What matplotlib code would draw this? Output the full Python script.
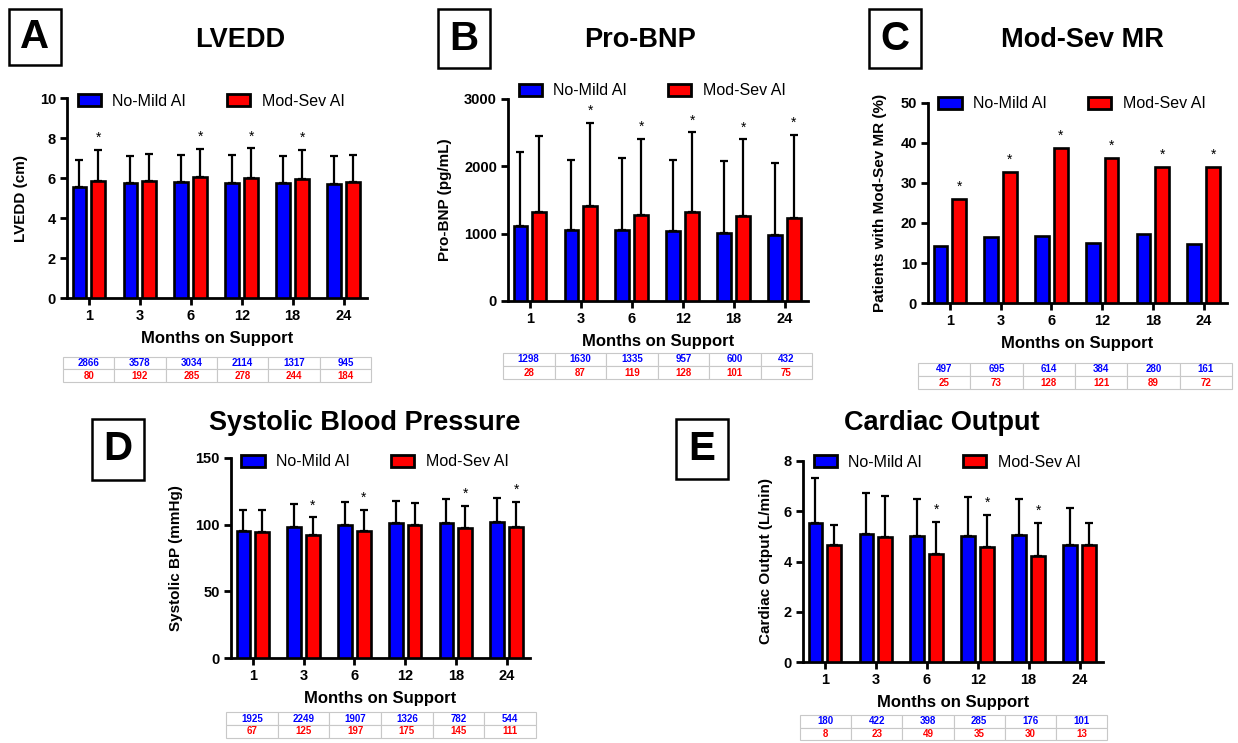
import numpy as np
import matplotlib
matplotlib.use("Agg")
import matplotlib.pyplot as plt
from matplotlib.patches import Patch, Rectangle

plt.rcParams["font.family"] = ["Liberation Sans", "DejaVu Sans"]

W, H = 1238, 743
months = ["1", "3", "6", "12", "18", "24"]
BLUE = "#0000ff"
RED = "#ff0000"

# LVEDD (cm)
lvedd_blue = [5.53, 5.76, 5.80, 5.76, 5.75, 5.71]
lvedd_blue_sd = [1.35, 1.35, 1.33, 1.37, 1.36, 1.40]
lvedd_red = [5.85, 5.85, 6.06, 6.00, 5.95, 5.80]
lvedd_red_sd = [1.54, 1.36, 1.40, 1.48, 1.44, 1.36]
lvedd_sig = [1, 0, 1, 1, 1, 0]
lvedd_n_blue = [2866, 3578, 3034, 2114, 1317, 945]
lvedd_n_red = [80, 192, 285, 278, 244, 184]

# Pro-BNP (pg/mL)
bnp_blue = [1110, 1056, 1051, 1041, 1006, 982]
bnp_blue_sd = [1106, 1041, 1066, 1056, 1066, 1061]
bnp_red = [1319, 1413, 1279, 1319, 1264, 1239]
bnp_red_sd = [1125, 1229, 1125, 1185, 1136, 1225]
bnp_sig = [0, 1, 1, 1, 1, 1]
bnp_n_blue = [1298, 1630, 1335, 957, 600, 432]
bnp_n_red = [28, 87, 119, 128, 101, 75]

# Mod-Sev MR (%)
mr_blue = [14.2, 16.4, 16.8, 14.9, 17.3, 14.7]
mr_red = [26.0, 32.8, 38.75, 36.3, 34.0, 34.1]
mr_sig = [1, 1, 1, 1, 1, 1]
mr_n_blue = [497, 695, 614, 384, 280, 161]
mr_n_red = [25, 73, 128, 121, 89, 72]

# Systolic BP (mmHg)
sbp_blue = [95.3, 98.3, 100.0, 101.0, 101.0, 101.8]
sbp_blue_sd = [16.0, 17.3, 17.0, 16.8, 18.0, 18.5]
sbp_red = [94.3, 92.5, 95.5, 99.5, 97.5, 98.3]
sbp_red_sd = [17.0, 13.0, 15.8, 16.8, 16.3, 18.5]
sbp_sig = [0, 1, 1, 0, 1, 1]
sbp_n_blue = [1925, 2249, 1907, 1326, 782, 544]
sbp_n_red = [67, 125, 197, 175, 145, 111]

# Cardiac output (L/min)
co_blue = [5.53, 5.09, 5.01, 5.02, 5.04, 4.66]
co_blue_sd = [1.81, 1.63, 1.48, 1.56, 1.45, 1.48]
co_red = [4.66, 4.96, 4.29, 4.57, 4.21, 4.66]
co_red_sd = [0.78, 1.63, 1.30, 1.28, 1.32, 0.88]
co_sig = [0, 0, 1, 1, 1, 0]
co_n_blue = [180, 422, 398, 285, 176, 101]
co_n_red = [8, 23, 49, 35, 30, 13]


def frac(x0, y0, x1, y1):
    return [x0 / W, 1 - y1 / H, (x1 - x0) / W, (y1 - y0) / H]


fig = plt.figure(figsize=(W / 100, H / 100), dpi=100)


def panel(axrect, letter, boxrect, title, title_xy, blue, red, blue_sd, red_sd,
          sig, ymax, ystep, ylabel, ylab_x, leg_y, tabrect, n_blue, n_red):
    ax = fig.add_axes(frac(*axrect))
    x = np.arange(len(months))
    w = 0.27
    lw = 1.9
    ax.bar(x - 0.185, blue, w, color=BLUE, edgecolor="black", linewidth=lw, zorder=3)
    ax.bar(x + 0.185, red, w, color=RED, edgecolor="black", linewidth=lw, zorder=3)
    tops = np.array(red, dtype=float)
    if blue_sd is not None:
        ax.errorbar(x - 0.185, blue, yerr=[np.zeros(6), blue_sd], fmt="none",
                    ecolor="black", elinewidth=1.6, capsize=3, capthick=1.6, zorder=2)
        ax.errorbar(x + 0.185, red, yerr=[np.zeros(6), red_sd], fmt="none",
                    ecolor="black", elinewidth=1.6, capsize=3, capthick=1.6, zorder=2)
        tops = tops + np.array(red_sd)
    for i in range(6):
        if sig[i]:
            ax.text(x[i] + 0.185, tops[i] + 0.025 * ymax, "*", ha="center",
                    va="bottom", fontsize=10)
    ax.set_xlim(-0.43, 5.46)
    ax.set_ylim(0, ymax)
    ax.set_yticks(np.arange(0, ymax + ystep / 2, ystep))
    ax.set_xticks(x)
    ax.set_xticklabels(months)
    for s in ["top", "right"]:
        ax.spines[s].set_visible(False)
    for s in ["left", "bottom"]:
        ax.spines[s].set_linewidth(2.0)
    ax.tick_params(axis="both", width=2.0, length=5, labelsize=10.5, pad=3)
    for lab in ax.get_xticklabels() + ax.get_yticklabels():
        lab.set_fontweight("bold")
    ax.set_ylabel(ylabel, fontsize=11, fontweight="bold")
    ax.yaxis.set_label_coords(ylab_x, 0.5)
    ax.set_xlabel("Months on Support", fontsize=12, fontweight="bold")
    ax.xaxis.set_label_coords(0.5, -0.165)
    handles = [Patch(facecolor=BLUE, edgecolor="black", linewidth=2, label="No-Mild AI"),
               Patch(facecolor=RED, edgecolor="black", linewidth=2, label="Mod-Sev AI")]
    ax.legend(handles=handles, ncol=2, loc="center left", bbox_to_anchor=(0.035, leg_y),
              frameon=False, fontsize=11.5, handlelength=1.45, handleheight=0.85,
              handletextpad=0.7, columnspacing=2.6, borderpad=0, borderaxespad=0)

    # letter box
    bx0, by0, bx1, by1 = boxrect
    r = frac(*boxrect)
    fig.add_artist(Rectangle((r[0], r[1]), r[2], r[3], transform=fig.transFigure,
                             fill=False, edgecolor="black", linewidth=1.8))
    fig.text((bx0 + bx1) / 2 / W, 1 - (by0 + by1) / 2 / H, letter, ha="center",
             va="center", fontsize=29, fontweight="bold")
    fig.text(title_xy[0] / W, 1 - title_xy[1] / H, title, ha="center", va="center",
             fontsize=19.5, fontweight="bold")

    # n table
    tax = fig.add_axes(frac(*tabrect))
    tax.axis("off")
    tbl = tax.table(cellText=[[str(v) for v in n_blue], [str(v) for v in n_red]],
                    cellLoc="center", bbox=[0, 0, 1, 1])
    tbl.auto_set_font_size(False)
    for (row, col), cell in tbl.get_celld().items():
        cell.set_edgecolor("#c8c8c8")
        cell.set_linewidth(0.8)
        cell.get_text().set_fontsize(7)
        cell.get_text().set_fontweight("bold")
        cell.get_text().set_color(BLUE if row == 0 else RED)
    return ax


panel((67, 98, 367, 298), "A", (9, 9, 61, 65), "LVEDD", (240, 40),
      lvedd_blue, lvedd_red, lvedd_blue_sd, lvedd_red_sd, lvedd_sig, 10, 2,
      "LVEDD (cm)", -0.13, 0.985, (63, 357, 371, 382), lvedd_n_blue, lvedd_n_red)

panel((508, 99, 808, 301), "B", (438, 9, 490, 68), "Pro-BNP", (640, 40),
      bnp_blue, bnp_red, bnp_blue_sd, bnp_red_sd, bnp_sig, 3000, 1000,
      "Pro-BNP (pg/mL)", -0.187, 1.04, (503, 353, 812, 379), bnp_n_blue, bnp_n_red)

panel((928, 103, 1227, 303), "C", (869, 9, 921, 68), "Mod-Sev MR", (1082, 40),
      mr_blue, mr_red, None, None, mr_sig, 50, 10,
      "Patients with Mod-Sev MR (%)", -0.137, 0.995, (918, 363, 1232, 389),
      mr_n_blue, mr_n_red)

panel((231, 458, 530, 658), "D", (92, 419, 144, 480), "Systolic Blood Pressure",
      (365, 423), sbp_blue, sbp_red, sbp_blue_sd, sbp_red_sd, sbp_sig, 150, 50,
      "Systolic BP (mmHg)", -0.16, 0.98, (226, 712, 536, 738), sbp_n_blue, sbp_n_red)

panel((803, 461, 1103, 662), "E", (676, 419, 728, 479), "Cardiac Output", (942, 423),
      co_blue, co_red, co_blue_sd, co_red_sd, co_sig, 8, 2,
      "Cardiac Output (L/min)", -0.10, 0.995, (800, 715, 1107, 740), co_n_blue, co_n_red)

fig.savefig("out.png", dpi=100)
